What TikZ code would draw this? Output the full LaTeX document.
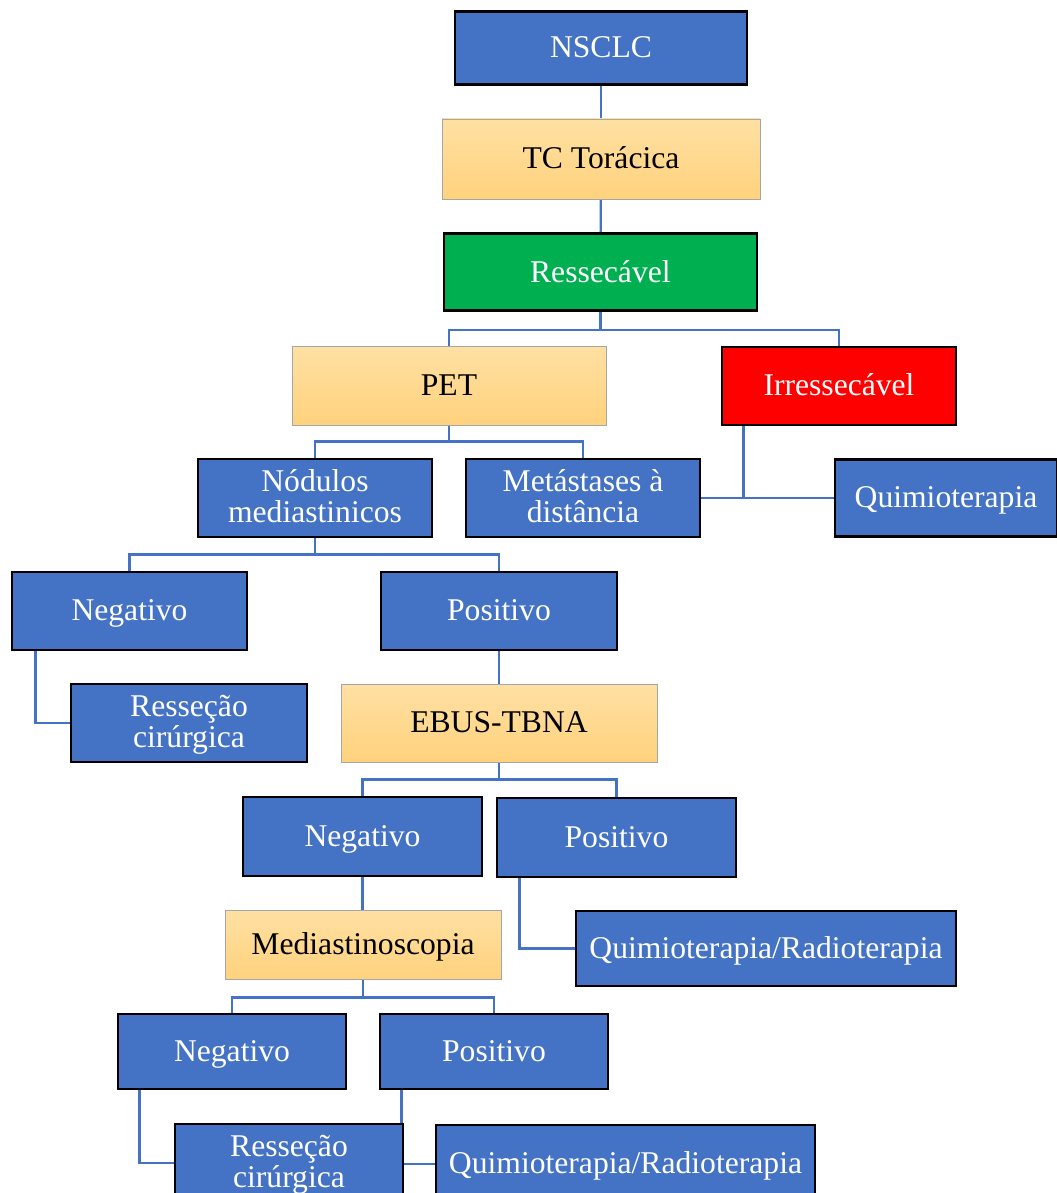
\documentclass[tikz,border=0pt]{standalone}
\usepackage{fontspec}
\setmainfont{Liberation Serif}
\usetikzlibrary{backgrounds}
\definecolor{boxblue}{HTML}{4472C4}
\definecolor{boxgreen}{HTML}{00B050}
\definecolor{boxred}{HTML}{FF0000}
\definecolor{peachtop}{HTML}{FFE0A3}
\definecolor{peachbot}{HTML}{FFD27D}
\newcommand\boxstrut{\rule[-5.8pt]{0pt}{25.8pt}}
\begin{document}
\begin{tikzpicture}[
  box/.style={rectangle, draw=black, line width=2pt, text=white, align=center,
    font=\fontsize{22.5}{22.5}\selectfont, inner sep=2pt,
    execute at begin node=\boxstrut, execute at end node=\boxstrut},
  twoline/.style={text height=42pt, text depth=6.6pt},
  bluebox/.style={box, fill=boxblue},
  greenbox/.style={box, fill=boxgreen},
  redbox/.style={box, fill=boxred},
  peachbox/.style={box, draw=gray!70, line width=0.6pt, text=black,
    top color=peachtop, bottom color=peachbot},
  link/.style={draw=boxblue, line width=1.6pt}
]
  \useasboundingbox (0,0) rectangle (26.425,-29.825);

  % Top of the tree
  \node[bluebox, minimum width=7.3cm, minimum height=1.825cm] (nsclc) at (15.025,-1.2) {NSCLC};
  \node[peachbox, minimum width=7.95cm, minimum height=2cm] (tc) at (15.025,-3.975) {TC Torácica};
  \node[greenbox, minimum width=7.825cm, minimum height=1.925cm] (ress) at (15.01,-6.81) {Ressecável};
  \node[peachbox, minimum width=7.85cm, minimum height=1.975cm] (pet) at (11.225,-9.64) {PET};
  \node[redbox, minimum width=5.85cm, minimum height=1.95cm] (irr) at (20.975,-9.65) {Irressecável};

  % PET results
  \node[bluebox, twoline, minimum width=5.85cm, minimum height=1.95cm] (nod) at (7.875,-12.45) {Nódulos\\mediastinicos};
  \node[bluebox, twoline, minimum width=5.85cm, minimum height=1.95cm] (meta) at (14.575,-12.45) {Metástases à\\distância};
  \node[bluebox, minimum width=5.55cm, minimum height=1.925cm] (quimio) at (23.65,-12.45) {Quimioterapia};

  % Mediastinal nodes
  \node[bluebox, minimum width=5.875cm, minimum height=1.95cm] (neg1) at (3.2375,-15.275) {Negativo};
  \node[bluebox, minimum width=5.9cm, minimum height=1.95cm] (pos1) at (12.475,-15.275) {Positivo};
  \node[bluebox, twoline, minimum width=5.9cm, minimum height=1.95cm] (res1) at (4.725,-18.075) {Resseção\\cirúrgica};
  \node[peachbox, minimum width=7.9cm, minimum height=1.95cm] (ebus) at (12.475,-18.075) {EBUS-TBNA};

  % EBUS results
  \node[bluebox, minimum width=5.975cm, minimum height=1.975cm] (neg2) at (9.0625,-20.9125) {Negativo};
  \node[bluebox, minimum width=5.975cm, minimum height=1.975cm] (pos2) at (15.4125,-20.9375) {Positivo};
  \node[peachbox, minimum width=6.9cm, minimum height=1.725cm] (med) at (9.075,-23.6125) {Mediastinoscopia};
  \node[bluebox, minimum width=9.5cm, minimum height=1.875cm] (qr1) at (19.15,-23.7125) {Quimioterapia/Radioterapia};

  % Mediastinoscopy results
  \node[bluebox, minimum width=5.7cm, minimum height=1.875cm] (neg3) at (5.8,-26.2875) {Negativo};
  \node[bluebox, minimum width=5.7cm, minimum height=1.875cm] (pos3) at (12.35,-26.2875) {Positivo};
  \node[bluebox, twoline, minimum width=5.7cm, minimum height=1.95cm] (res3) at (7.225,-29.075) {Resseção\\cirúrgica};
  \node[bluebox, minimum width=9.475cm, minimum height=1.95cm] (qr2) at (15.6375,-29.1) {Quimioterapia/Radioterapia};

  % Connectors
  \begin{scope}[on background layer]
    \draw[link] (nsclc) -- (tc);
    \draw[link] (tc) -- (ress);
    \draw[link] (ress.south) -- ++(0,-0.45) coordinate (j1);
    \draw[link] (pet.north) |- (j1) -| (irr.north);
    \draw[link] (pet.south) -- ++(0,-0.4) coordinate (j2);
    \draw[link] (nod.north) |- (j2) -| (meta.north);
    \draw[link] ([xshift=0.575cm]irr.south west) |- (quimio.west);
    \draw[link] (meta.east) -- (quimio.west);
    \draw[link] (nod.south) -- ++(0,-0.4) coordinate (j3);
    \draw[link] (neg1.north) |- (j3) -| (pos1.north);
    \draw[link] ([xshift=0.625cm]neg1.south west) |- (res1.west);
    \draw[link] (pos1) -- (ebus);
    \draw[link] (ebus.south) -- ++(0,-0.425) coordinate (j4);
    \draw[link] (neg2.north) |- (j4) -| (pos2.north);
    \draw[link] (neg2.south) -- (neg2.south |- med.north);
    \draw[link] ([xshift=0.6cm]pos2.south west) |- (qr1.west);
    \draw[link] (med.south) -- ++(0,-0.45) coordinate (j5);
    \draw[link] (neg3.north) |- (j5) -| (pos3.north);
    \draw[link] ([xshift=0.575cm]neg3.south west) |- (res3.west);
    \draw[link] ([xshift=0.575cm]pos3.south west) |- (qr2.west);
  \end{scope}
\end{tikzpicture}
\end{document}
